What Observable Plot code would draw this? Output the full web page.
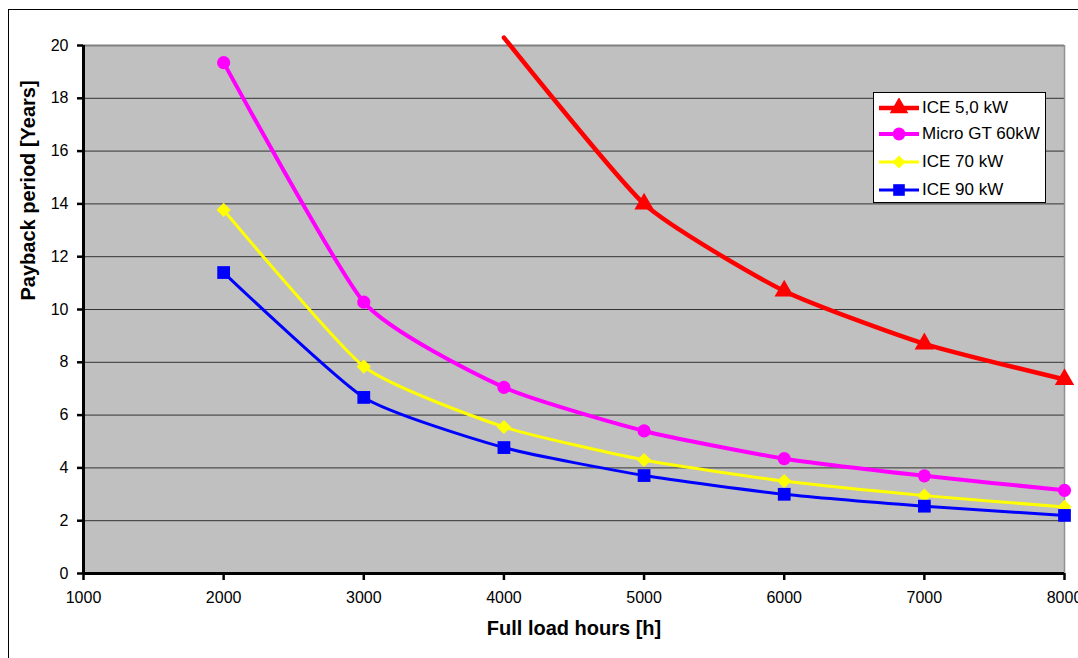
<!DOCTYPE html>
<html>
<head>
<meta charset="utf-8">
<script src="https://cdn.jsdelivr.net/npm/d3@7"></script>
<script src="https://cdn.jsdelivr.net/npm/@observablehq/plot@0.6"></script>
<style>
  html, body { margin: 0; padding: 0; background: #fff; overflow: hidden; }
  #wrap { position: relative; width: 1078px; height: 658px; font-family: "Liberation Sans", Arial, sans-serif; }
  #border { position: absolute; left: 8px; top: 9px; width: 1200px; height: 800px; border: 1px solid #000; box-sizing: border-box; }
  #chart { position: absolute; left: 0; top: 0; }
  #legend { position: absolute; left: 873px; top: 92px; width: 173px; height: 111px; background: #fff;
            border: 1px solid #000; box-sizing: border-box; font-size: 17px; }
  .item { position: absolute; left: 4px; height: 20px; display: flex; align-items: center; white-space: nowrap; }
  .item svg { margin-right: 2px; }
</style>
</head>
<body>
<div id="wrap">
  <div id="border"></div>
  <div id="chart"></div>
  <div id="legend"></div>
</div>
<script>
// Full load hours (x) and payback periods in years for each unit
const hours = [2000, 3000, 4000, 5000, 6000, 7000, 8000];
const ice5  = [null, null, 20.3, 14.0, 10.7, 8.7, 7.35];
const microGT60 = [19.35, 10.28, 7.05, 5.4, 4.35, 3.7, 3.15];
const ice70 = [13.77, 7.84, 5.55, 4.3, 3.5, 2.95, 2.52];
const ice90 = [11.4, 6.67, 4.77, 3.71, 3.0, 2.55, 2.2];

const xTicks = [1000, 2000, 3000, 4000, 5000, 6000, 7000, 8000];
const yTicks = [0, 2, 4, 6, 8, 10, 12, 14, 16, 18, 20];

const seriesNames = ["ICE 5,0 kW", "Micro GT 60kW", "ICE 70 kW", "ICE 90 kW"];
const seriesValues = [ice5, microGT60, ice70, ice90];
const seriesColors = ["#FF0000", "#FF00FF", "#FFFF00", "#0000FF"];
const seriesSymbols = ["triangle", "circle", "diamond2", "square"];
const lineWidths = [4.5, 4, 3, 3];
const markerR = [7.2, 6.6, 6.4, 7.2];

const series = seriesNames.map((name, i) => ({
  name,
  color: seriesColors[i],
  symbol: seriesSymbols[i],
  width: lineWidths[i],
  r: markerR[i],
  rows: hours.map((h, j) => ({hours: h, years: seriesValues[i][j]})).filter(d => d.years != null)
}));

const marks = [
  Plot.frame({fill: "#C0C0C0", stroke: null}),
  Plot.ruleY(yTicks.filter(v => v > 0 && v < 20), {stroke: "#333", strokeWidth: 1}),
  Plot.ruleY([20], {stroke: "#808080", strokeWidth: 2}),
  Plot.ruleX([8000], {stroke: "#909090", strokeWidth: 1.5})
];

// Smoothed lines with a gentle cardinal spline
for (const s of series) {
  marks.push(Plot.line(s.rows, {x: "hours", y: "years", stroke: s.color, strokeWidth: s.width, curve: "cardinal", tension: 0.45}));
}
for (const s of series) {
  marks.push(Plot.dot(s.rows.filter(d => d.years <= 20), {x: "hours", y: "years", symbol: () => s.symbol, fill: s.color, stroke: null, r: s.r}));
}

marks.push(
  Plot.ruleX([1000], {stroke: "#000", strokeWidth: 3}),
  Plot.ruleY([0], {stroke: "#000", strokeWidth: 3}),
  Plot.axisX(xTicks, {tickSize: 7, tickPadding: 11, tickFormat: d => String(d), strokeWidth: 2.5, fontSize: 16, label: null}),
  Plot.axisY(yTicks, {tickSize: 6, tickPadding: 9, strokeWidth: 2.5, fontSize: 16, label: null}),
  Plot.text(["Full load hours [h]"], {frameAnchor: "bottom", dy: 61, fontWeight: "bold", fontSize: 20}),
  Plot.text(["Payback period [Years]"], {frameAnchor: "left", rotate: -90, dx: -55, dy: -9, fontWeight: "bold", fontSize: 20})
);

const chart = Plot.plot({
  width: 1078,
  height: 658,
  marginLeft: 83,
  marginTop: 45,
  marginRight: 14,
  marginBottom: 85,
  x: {domain: [1000, 8000]},
  y: {domain: [0, 20]},
  symbol: {domain: seriesSymbols, range: seriesSymbols},
  style: {fontFamily: "'Liberation Sans', Arial, sans-serif", background: "transparent", color: "#000", overflow: "visible"},
  marks
});
document.getElementById("chart").appendChild(chart);

// Legend box with line + marker samples
const legend = document.getElementById("legend");
const symbolPaths = {
  triangle: d3.symbol(d3.symbolTriangle, 150)(),
  circle: d3.symbol(d3.symbolCircle, 130)(),
  diamond2: d3.symbol(d3.symbolDiamond2, 110)(),
  square: d3.symbol(d3.symbolSquare, 135)()
};
const itemTops = [5, 31, 59, 87];
series.forEach((s, i) => {
  const item = document.createElement("div");
  item.className = "item";
  item.style.top = itemTops[i] + "px";
  item.innerHTML =
    `<svg width="42" height="20"><line x1="1" x2="41" y1="10" y2="10" stroke="${s.color}" stroke-width="${s.width}"/>` +
    `<path d="${symbolPaths[s.symbol]}" transform="translate(21,10)" fill="${s.color}"/></svg>` +
    `<span>${s.name}</span>`;
  legend.appendChild(item);
});
</script>
</body>
</html>
